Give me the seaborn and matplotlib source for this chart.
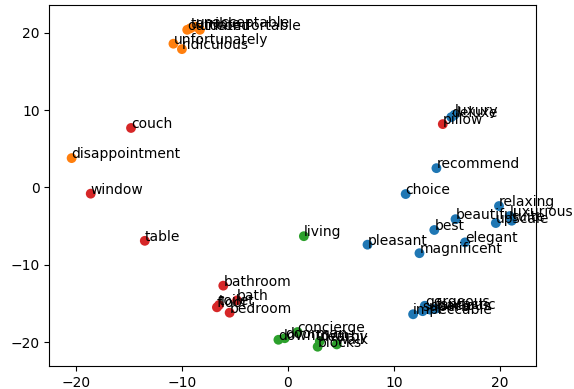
import pandas as pd
import numpy as np
import matplotlib
matplotlib.use("Agg")
import matplotlib.pyplot as plt
import seaborn as sns

# ------------------------------------------
# Word embedding 2-D projection
# ------------------------------------------

words = [
    # cluster 0 (positive)
    'luxury', 'deluxe', 'recommend', 'choice', 'relaxing', 'beautiful',
    'luxurious', 'upscale', 'suite', 'best', 'elegant', 'pleasant',
    'magnificent', 'impeccable', 'superb', 'spacious', 'fantastic', 'gorgeous',
    # cluster 1 (negative)
    'disappointment', 'unfortunately', 'ridiculous', 'outdated', 'terrible',
    'unacceptable', 'uncomfortable',
    # cluster 2 (location)
    'living', 'concierge', 'downtown', 'doorman', 'blocks', 'nearby', 'walk',
    # cluster 3 (room)
    'pillow', 'couch', 'window', 'table', 'bathroom', 'bath', 'floor',
    'toilet', 'bedroom',
]

x_vals = [
    15.7, 15.4, 14.0, 11.1, 19.9, 15.8,
    20.9, 19.6, 21.1, 13.8, 16.7, 7.5,
    12.4, 11.8, 12.7, 13.4, 13.9, 12.9,
    -20.4, -10.8, -10.0, -9.5, -9.2,
    -8.7, -8.3,
    1.5, 0.9, -0.9, -0.3, 2.8, 3.0, 4.6,
    14.6, -14.8, -18.6, -13.5, -6.1, -4.8, -6.7,
    -6.5, -5.5,
]

y_vals = [
    9.4, 9.1, 2.5, -0.85, -2.4, -4.1,
    -3.7, -4.6, -4.3, -5.5, -7.1, -7.4,
    -8.5, -16.4, -16.0, -15.8, -15.7, -15.3,
    3.8, 18.6, 17.9, 20.4, 20.6,
    20.8, 20.4,
    -6.3, -18.7, -19.7, -19.5, -20.6, -19.9, -20.3,
    8.2, 7.7, -0.8, -6.9, -12.7, -14.6, -15.5,
    -15.2, -16.2,
]

clusters = [0] * 18 + [1] * 7 + [2] * 7 + [3] * 9

df = pd.DataFrame({'word': words, 'x': x_vals, 'y': y_vals, 'cluster': clusters})

# ------------------------------------------
# Scatter plot
# ------------------------------------------

fig, ax = plt.subplots(figsize=(5.74, 3.89), dpi=100)

sns.scatterplot(
    data=df,
    x='x',
    y='y',
    hue='cluster',
    palette='tab10',
    s=50,
    linewidth=0,
    legend=False,
    ax=ax
)

for _, row in df.iterrows():
    ax.annotate(row['word'], (row['x'], row['y']), fontsize=10)

ax.set_xlabel('')
ax.set_ylabel('')
ax.set_xlim(-22.5, 23.4)
ax.set_ylim(-23.1, 23.6)

fig.subplots_adjust(left=0.086, right=0.934, top=0.987, bottom=0.059)

plt.savefig("out.png")
